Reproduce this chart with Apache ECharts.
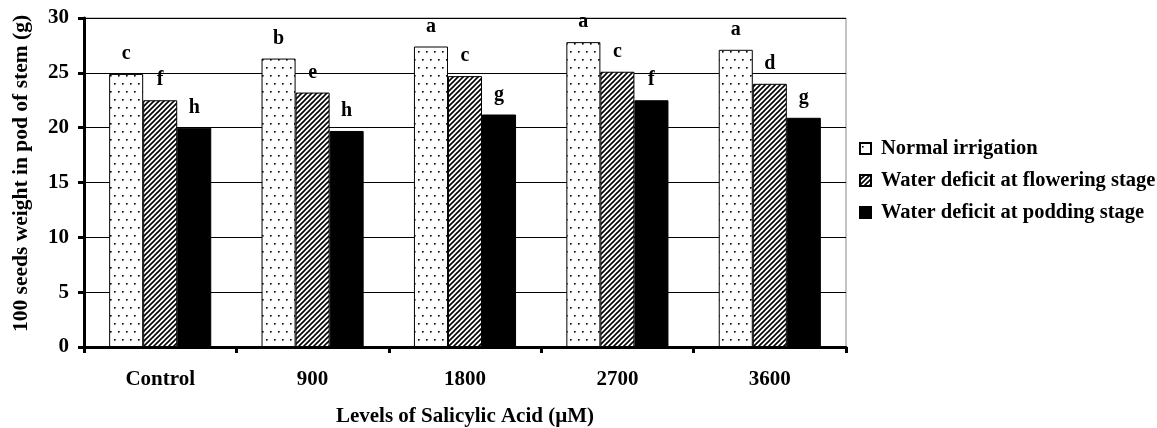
<!DOCTYPE html>
<html>
<head>
<meta charset="utf-8">
<script src="https://cdn.jsdelivr.net/npm/echarts@6/dist/echarts.min.js"></script>
<style>html,body{margin:0;padding:0;background:#fff}#c{width:1157px;height:428px}</style>
</head>
<body>
<div id="c"></div>
<script>
const categories = ['Control', '900', '1800', '2700', '3600'];
const seriesNames = ['Normal irrigation', 'Water deficit at flowering stage', 'Water deficit at podding stage'];
const normalVals = [24.9, 26.3, 27.4, 27.8, 27.1];
const floweringVals = [22.5, 23.2, 24.7, 25.1, 24.0];
const poddingVals = [20.0, 19.7, 21.2, 22.5, 20.9];
const normalLetters = ['c', 'b', 'a', 'a', 'a'];
const floweringLetters = ['f', 'e', 'c', 'c', 'd'];
const poddingLetters = ['h', 'h', 'g', 'f', 'g'];
const yTicks = [0, 5, 10, 15, 20, 25, 30];

function dotPattern() {
  const c = document.createElement('canvas');
  c.width = 8; c.height = 16;
  const g = c.getContext('2d');
  g.fillStyle = '#fff'; g.fillRect(0, 0, 8, 16);
  g.fillStyle = '#000';
  g.fillRect(2, 3, 1.6, 1.6);
  g.fillRect(6, 11, 1.6, 1.6);
  return c;
}
function hatchPattern() {
  const s = 5;
  const c = document.createElement('canvas');
  c.width = s; c.height = s;
  const g = c.getContext('2d');
  g.fillStyle = '#fff'; g.fillRect(0, 0, s, s);
  g.strokeStyle = '#000'; g.lineWidth = 1.6;
  g.beginPath();
  g.moveTo(-1, s + 1); g.lineTo(s + 1, -1);
  g.moveTo(-1, 1); g.lineTo(1, -1);
  g.moveTo(s - 1, s + 1); g.lineTo(s + 1, s - 1);
  g.stroke();
  return c;
}

const font = 'Liberation Serif';
const chart = echarts.init(document.getElementById('c'), null, {renderer: 'canvas'});

function mkSeries(name, vals, letters, color) {
  return {
    name: name,
    type: 'bar',
    data: vals,
    barGap: '0%',
    barCategoryGap: '33%',
    itemStyle: {color: color, borderColor: '#000', borderWidth: 1},
    label: {
      show: true, position: 'top', distance: 10,
      formatter: p => letters[p.dataIndex],
      fontFamily: font, fontWeight: 'bold', fontSize: 20, color: '#000'
    }
  };
}

chart.setOption({
  animation: false,
  backgroundColor: '#fff',
  grid: {left: 84, right: 311, top: 18, bottom: 81, show: true, borderColor: '#888', borderWidth: 1,
    containLabel: false, outerBoundsMode: 'none'},
  legend: {
    orient: 'vertical', left: 859, top: 138, padding: 0,
    itemWidth: 11, itemHeight: 11, itemGap: 11, icon: 'rect',
    textStyle: {fontFamily: font, fontWeight: 'bold', fontSize: 20.5, color: '#000', padding: [0, 0, 0, 5]},
    data: seriesNames
  },
  xAxis: {
    type: 'category', data: categories,
    name: 'Levels of Salicylic Acid (µM)', nameLocation: 'middle', nameGap: 59,
    nameTextStyle: {fontFamily: font, fontWeight: 'bold', fontSize: 21, color: '#000'},
    axisLine: {lineStyle: {color: '#000', width: 3}},
    axisTick: {show: true, inside: false, length: 6, lineStyle: {color: '#000', width: 3}},
    axisLabel: {margin: 22, fontFamily: font, fontWeight: 'bold', fontSize: 21, color: '#000'}
  },
  yAxis: {
    type: 'value', min: 0, max: 30, interval: 5,
    name: '100 seeds weight in pod of stem (g)', nameLocation: 'middle', nameGap: 52,
    nameTextStyle: {fontFamily: font, fontWeight: 'bold', fontSize: 21.5, color: '#000', padding: [0, 0, 0, 18]},
    axisLine: {show: true, lineStyle: {color: '#000', width: 3}},
    axisTick: {show: true, length: 6, lineStyle: {color: '#000', width: 3}},
    axisLabel: {margin: 15, fontFamily: font, fontWeight: 'bold', fontSize: 21, color: '#000',
      formatter: v => yTicks.includes(v) ? String(v) : ''},
    splitLine: {show: true, lineStyle: {color: '#000', width: 1}}
  },
  series: [
    mkSeries(seriesNames[0], normalVals, normalLetters, {image: dotPattern(), repeat: 'repeat'}),
    mkSeries(seriesNames[1], floweringVals, floweringLetters, {image: hatchPattern(), repeat: 'repeat'}),
    mkSeries(seriesNames[2], poddingVals, poddingLetters, '#000')
  ]
});
</script>
</body>
</html>
